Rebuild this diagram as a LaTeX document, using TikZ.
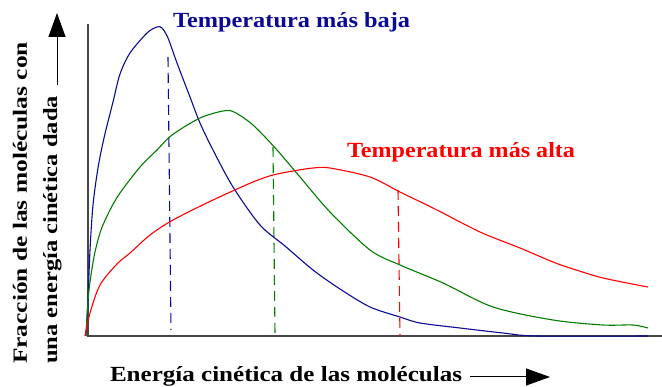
\documentclass[tikz,border=0pt]{standalone}
\usepackage{fontspec}
\setmainfont{Liberation Serif}
\usetikzlibrary{arrows.meta}
\definecolor{cblue}{RGB}{10,10,150}
\definecolor{cgreen}{RGB}{0,125,0}
\definecolor{cred}{RGB}{255,0,0}
\definecolor{caxis}{RGB}{70,70,70}
\newcommand\fitlabel[3]{\resizebox{#1pt}{#2pt}{\bfseries #3}}
\tikzset{
  curve/.style={line width=1.1pt, smooth, tension=0.5},
  guide/.style={line width=1.1pt, dash pattern=on 10pt off 6pt},
  axisline/.style={caxis, line width=1.3pt},
  labelarrow/.style={line width=1pt, -{Triangle[length=24pt,width=17pt]}},
  lbl/.style={inner sep=0pt, outer sep=0pt, anchor=base west}
}
\begin{document}
\begin{tikzpicture}[x=1pt,y=-1pt]
\useasboundingbox (0,0) rectangle (662,387);
% axes
\coordinate (top) at (88,24);
\coordinate (origin) at (88,336);
\coordinate (right) at (662,336);
\draw[axisline] (top) -- (origin) -- (right);
% guides
\draw[guide, cblue] (168,57) -- (171,330);
\draw[guide, cgreen] (273,147) -- (275,334);
\draw[guide, cred] (398,190) -- (400,336);
% curves
\draw[curve, cblue] plot coordinates {(86,336) (88,300) (90,250) (93,205) (98,168) (104,138) (113,102) (120,74) (130,53) (147,33) (157,27) (162,28) (168,38) (177,63) (190,97) (200,123) (213,150) (233,187) (260,225) (285,246) (313,270) (340,289) (370,307) (400,317) (420,323) (460,328) (503,333) (537,336) (648,336)};
\draw[curve, cgreen] plot coordinates {(86,336) (88,300) (91,275) (95,252) (101,230) (110,210) (120,193) (140,167) (157,150) (172,135) (200,118) (223,111) (234,112) (253,125) (277,150) (300,177) (330,212) (370,250) (400,265) (443,283) (493,307) (553,320) (603,325) (633,325) (648,328)};
\draw[curve, cred] plot coordinates {(85,336) (90,313) (100,285) (117,264) (130,253) (150,235) (173,220) (213,200) (253,182) (273,175) (293,171) (313,168) (330,168) (370,177) (400,192) (437,210) (480,232) (520,248) (553,262) (570,268) (603,278) (648,287)};
% labels
\node[lbl, cblue] (tlow) at (173,28) {\fitlabel{237}{15}{Temperatura más baja}};
\node[lbl, cred] (thigh) at (347,158) {\fitlabel{228}{15}{Temperatura más alta}};
\node[lbl] (xlab) at (110,382) {\fitlabel{352}{15}{Energía cinética de las moléculas}};
\coordinate (xa1) at (470,377);
\coordinate (xa2) at (550,377);
\draw[labelarrow] (xa1) -- (xa2);
\node[lbl, rotate=90] (ylab1) at (27,364) {\fitlabel{322}{14}{Fracción de las moléculas con}};
\node[lbl, rotate=90] (ylab2) at (57,364) {\fitlabel{268}{14}{una energía cinética dada}};
\coordinate (ya1) at (57,85);
\coordinate (ya2) at (57,13);
\draw[labelarrow] (ya1) -- (ya2);
\end{tikzpicture}
\end{document}
